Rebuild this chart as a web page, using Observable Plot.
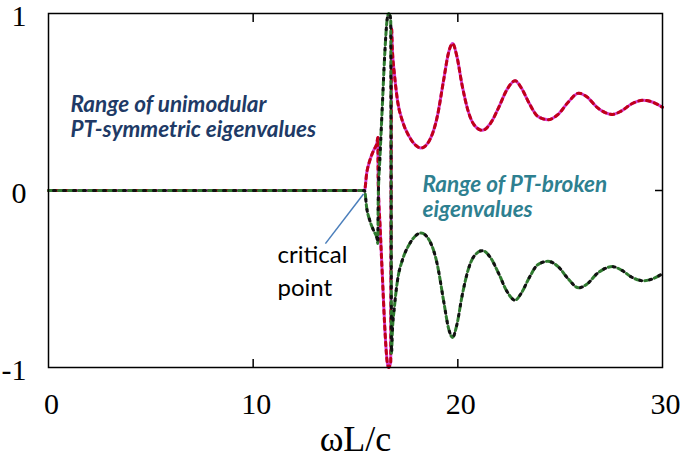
<!DOCTYPE html>
<html><head><meta charset="utf-8">
<script src="https://cdn.jsdelivr.net/npm/d3@7"></script>
<script src="https://cdn.jsdelivr.net/npm/@observablehq/plot@0.6"></script>
<style>html,body{margin:0;padding:0;background:#fff}#chart{width:685px;height:467px}</style>
</head><body><div id="chart"></div>
<script>
// ωL/c sample positions
const omega = [0, 15.44, 15.55, 15.7, 15.9, 16.05, 16.09, 16.11, 16.2, 16.32, 16.42, 16.55, 16.62, 16.72, 16.76, 16.8, 16.9, 17.05, 17.3, 17.6, 17.9, 18.2, 18.6, 19.0, 19.3, 19.55, 19.74, 19.95, 20.2, 20.5, 20.8, 21.2, 21.6, 22.0, 22.4, 22.8, 23.1, 23.5, 23.9, 24.4, 24.9, 25.4, 25.9, 26.3, 26.8, 27.2, 27.55, 28.0, 28.5, 29.07, 29.5, 30];
// upper (magenta) branch
const branchUpper = [0, 0, 0.1, 0.17, 0.23, 0.27, 0.3, 0.05, -0.2, -0.5, -0.75, -0.97, -1.0, -0.97, 0.92, 0.8, 0.66, 0.51, 0.39, 0.31, 0.26, 0.24, 0.28, 0.42, 0.62, 0.78, 0.83, 0.76, 0.6, 0.45, 0.37, 0.34, 0.38, 0.47, 0.57, 0.62, 0.58, 0.49, 0.42, 0.40, 0.43, 0.50, 0.55, 0.53, 0.47, 0.44, 0.43, 0.45, 0.49, 0.51, 0.50, 0.47];
// lower (green) branch
const branchLower = [0, 0, -0.1, -0.17, -0.23, -0.27, -0.3, -0.05, 0.2, 0.5, 0.75, 0.97, 1.0, 0.97, -0.92, -0.8, -0.66, -0.51, -0.39, -0.31, -0.26, -0.24, -0.28, -0.42, -0.62, -0.78, -0.83, -0.76, -0.6, -0.45, -0.37, -0.34, -0.38, -0.47, -0.57, -0.62, -0.58, -0.49, -0.42, -0.40, -0.43, -0.50, -0.55, -0.53, -0.47, -0.44, -0.43, -0.45, -0.49, -0.51, -0.50, -0.47];
const xTicks = [0, 10, 20, 30];
const xInnerTicks = [10, 20];
const yTicks = [-1, 0, 1];
const yInnerTicks = [0];
const noteSymmetric = ["Range of unimodular\nPT-symmetric eigenvalues"];
const noteBroken = ["Range of PT-broken\neigenvalues"];
const noteCritical = ["critical\npoint"];
const criticalPoint = [{x: 15.44, y: 0}];
const xLabel = "ωL/c";

const upper = omega.map((x, i) => ({x, y: branchUpper[i]}));
const lower = omega.map((x, i) => ({x, y: branchLower[i]}));

const annoFont = "Lato, 'Open Sans', sans-serif";
const serif = "'Liberation Serif', 'DejaVu Serif', serif";

const plot = Plot.plot({
  width: 685, height: 467,
  marginLeft: 48, marginRight: 23, marginTop: 13, marginBottom: 100,
  x: {domain: [0, 30]},
  y: {domain: [-1, 1]},
  style: {background: "white", color: "black"},
  marks: [
    // inward ticks
    Plot.axisX({anchor: "bottom", ticks: xInnerTicks, tickSize: -8, tickFormat: () => "", label: null, strokeWidth: 1.5}),
    Plot.axisX({anchor: "top", ticks: xInnerTicks, tickSize: -8, tickFormat: () => "", label: null, strokeWidth: 1.5}),
    Plot.axisY({anchor: "right", ticks: yInnerTicks, tickSize: -8, tickFormat: () => "", label: null, strokeWidth: 1.5}),
    Plot.axisY({anchor: "left", ticks: yInnerTicks, tickSize: -8, tickFormat: () => "", label: null, strokeWidth: 1.5}),
    // tick labels
    Plot.axisX({anchor: "bottom", ticks: xTicks, tickSize: 0, tickPadding: 25, dx: 3, fontSize: 30, fontFamily: serif, tickFormat: d => String(d), label: null}),
    Plot.axisY({anchor: "left", ticks: yTicks, tickSize: 0, tickPadding: 22, dy: 3, fontSize: 30, fontFamily: serif, tickFormat: d => String(d), label: null}),
    Plot.text([xLabel], {frameAnchor: "bottom", dy: 83, text: d => d, fontSize: 36, fontFamily: serif, fill: "black"}),
    // curves
    Plot.line(upper, {x: "x", y: "y", curve: "monotone-x", stroke: "#d43ad0", strokeWidth: 3}),
    Plot.line(upper, {x: "x", y: "y", curve: "monotone-x", stroke: "#c00018", strokeWidth: 3, strokeDasharray: "3.5,4.5"}),
    Plot.line(lower, {x: "x", y: "y", curve: "monotone-x", stroke: "#2f7a2f", strokeWidth: 3, strokeDasharray: "5,5"}),
    Plot.line(lower, {x: "x", y: "y", curve: "monotone-x", stroke: "#111", strokeWidth: 3, strokeDasharray: "2,8", strokeDashoffset: -5}),
    // annotations
    Plot.link(criticalPoint, {x1: d => d.x - 0.05, y1: d => d.y - 0.02, x2: 13.53, y2: -0.30, stroke: "#4a7ebb", strokeWidth: 1.5}),
    Plot.text(noteSymmetric, {x: 1.07, y: 0.42, text: d => d, textAnchor: "start", lineHeight: 1.12, fontSize: 22.5, fontWeight: "bold", fontStyle: "italic", fontFamily: annoFont, fill: "#203a66"}),
    Plot.text(noteBroken, {x: 18.27, y: -0.035, text: d => d, textAnchor: "start", lineHeight: 1.12, fontSize: 22.5, fontWeight: "bold", fontStyle: "italic", fontFamily: annoFont, fill: "#2e8090"}),
    Plot.text(noteCritical, {x: 11.19, y: -0.445, text: d => d, textAnchor: "start", lineHeight: 1.38, fontSize: 24, fontFamily: annoFont, fill: "black"}),
    Plot.frame({stroke: "black", strokeWidth: 1.5})
  ]
});
document.getElementById("chart").appendChild(plot);
</script>
</body></html>
